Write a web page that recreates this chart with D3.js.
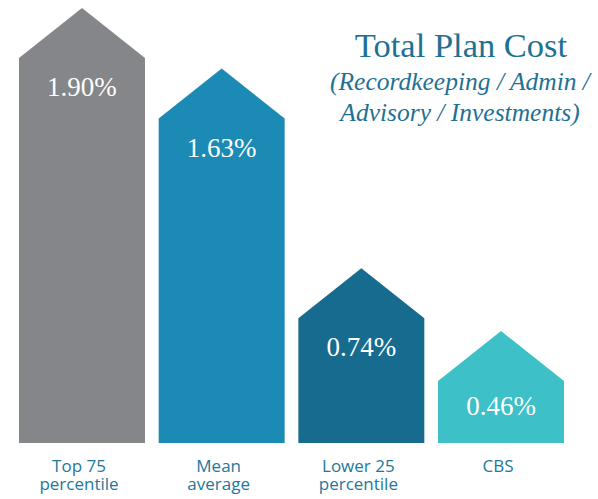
<!DOCTYPE html>
<html><head><meta charset="utf-8">
<script src="https://cdn.jsdelivr.net/npm/d3@7"></script>
<style>html,body{margin:0;padding:0;background:#fff;}svg{display:block;}</style>
</head><body>
<svg id="chart" width="598" height="499"></svg>
<script>
const categories = [["Top 75","percentile"],["Mean","average"],["Lower 25","percentile"],["CBS"]];
const values = [1.90, 1.63, 0.74, 0.46];
const valueLabels = ["1.90%","1.63%","0.74%","0.46%"];
const barColors = ["#858689","#1b8bb6","#176b8e","#3dc0c8"];
const titleText = "Total Plan Cost";
const subtitleLines = ["(Recordkeeping / Admin /","Advisory / Investments)"];

const svg = d3.select("#chart");
const baseY = 443;
const roof = 50;

const x = d3.scaleBand().domain(d3.range(values.length)).range([19, 564]).paddingInner(0.098).paddingOuter(0);
// peak height scale (linear with small offset)
const y = d3.scaleLinear().domain([0, 1.9]).range([baseY - 8.8, baseY - 435]);

const g = svg.append("g");
values.forEach((v, i) => {
  const x0 = x(i), x1 = x(i) + x.bandwidth();
  const peak = y(v), shoulder = peak + roof;
  const cx = (x0 + x1) / 2;
  g.append("path")
    .attr("d", `M${x0},${baseY} L${x0},${shoulder} L${cx},${peak} L${x1},${shoulder} L${x1},${baseY} Z`)
    .attr("fill", barColors[i]);
  g.append("text")
    .attr("x", cx).attr("y", Math.min(shoulder + 38, baseY - 28))
    .attr("text-anchor", "middle")
    .attr("font-family", "'Liberation Serif', serif")
    .attr("font-size", 27).attr("fill", "#fff")
    .text(valueLabels[i]);
  categories[i].forEach((line, j) => {
    g.append("text")
      .attr("x", cx - 3).attr("y", 472 + j * 18)
      .attr("text-anchor", "middle")
      .attr("font-family", "'Open Sans', sans-serif")
      .attr("font-size", 17).attr("fill", "#22789c")
      .text(line);
  });
});

svg.append("text").attr("x", 461).attr("y", 57).attr("text-anchor", "middle")
  .attr("font-family", "'Liberation Serif', serif").attr("font-size", 34.5)
  .attr("fill", "#1f7194").text(titleText);
subtitleLines.forEach((line, j) => {
  svg.append("text").attr("x", 460).attr("y", 90 + j * 31).attr("text-anchor", "middle")
    .attr("font-family", "'Liberation Serif', serif").attr("font-style", "italic").attr("font-size", 25.5)
    .attr("fill", "#1f7194").text(line);
});
</script>
</body></html>
